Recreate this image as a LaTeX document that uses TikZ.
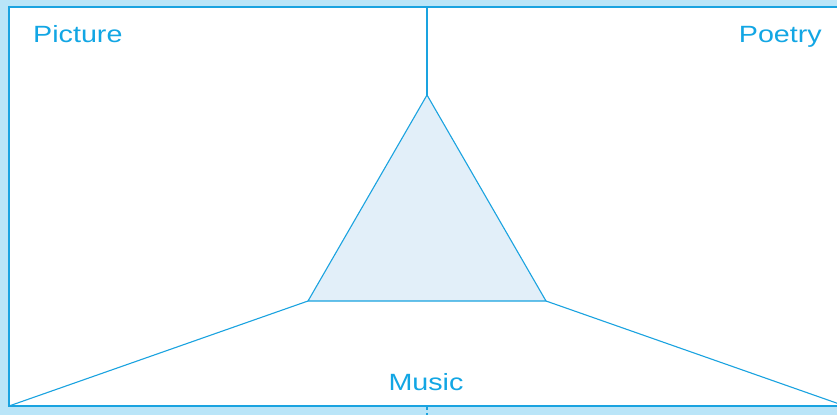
\documentclass[tikz,border=0pt]{standalone}
\usepackage{fontspec}
\setmainfont{Liberation Sans}
\definecolor{bgblue}{HTML}{BAE5F8}
\definecolor{linec}{HTML}{1AA3E0}
\definecolor{textc}{HTML}{12A6E4}
\definecolor{trifill}{HTML}{E2EFF9}
\tikzset{
  edge/.style={draw=linec, line width=1.1pt},
  frame/.style={draw=linec, line width=1.6pt},
  lbl/.style={text=textc, font=\fontsize{23.5}{28}\selectfont, inner sep=0pt, xscale=1.22}
}
\begin{document}
\begin{tikzpicture}[x=1pt,y=-1pt]
\useasboundingbox (0,0) rectangle (837,415);
\fill[bgblue] (0,0) rectangle (837,415);
\fill[white] (9,7) rectangle (837,406);
\begin{scope}
\clip (0,0) rectangle (837,415);
\coordinate (top) at (427,7);
\coordinate (apex) at (427,95);
\coordinate (bl) at (308,301);
\coordinate (br) at (546,301);
\coordinate (cl) at (9,406);
\coordinate (cr) at (845,406);
\coordinate (dtop) at (427,407);
\coordinate (dbot) at (427,415);
\filldraw[fill=trifill, edge, line join=miter] (apex) -- (bl) -- (br) -- cycle;
\draw[edge] (top) -- (apex);
\draw[edge] (bl) -- (cl);
\draw[edge] (br) -- (cr);
\draw[frame] (837,7) -- (9,7) -- (9,406) -- (837,406);
\draw[linec, line width=2.2pt, dash pattern=on 2.5pt off 3.5pt] (dtop) -- (dbot);
\end{scope}
\node[lbl, anchor=base west] (picture) at (33,42) {Picture};
\node[lbl, anchor=base east] (poetry) at (822,42) {Poetry};
\node[lbl, anchor=base] (music) at (426,390) {Music};
\end{tikzpicture}
\end{document}
